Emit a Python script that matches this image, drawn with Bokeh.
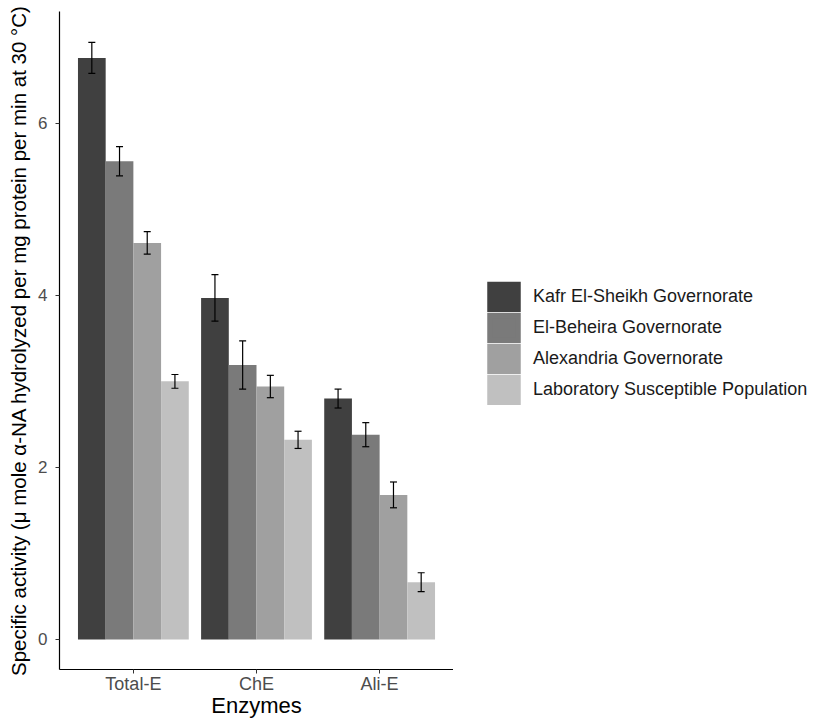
from bokeh.plotting import figure
from bokeh.layouts import row
from bokeh.models import ColumnDataSource, FactorRange, Whisker, TeeHead, Legend, LegendItem
from bokeh.transform import dodge
from bokeh.embed import file_html
from bokeh.resources import INLINE

enzymes = ["Total-E", "ChE", "Ali-E"]
groups = ["Kafr El-Sheikh Governorate", "El-Beheira Governorate",
          "Alexandria Governorate", "Laboratory Susceptible Population"]
kafr = [6.76, 3.97, 2.80]
kafr_se = [0.18, 0.27, 0.11]
beheira = [5.56, 3.19, 2.38]
beheira_se = [0.17, 0.28, 0.14]
alex = [4.61, 2.94, 1.68]
alex_se = [0.13, 0.13, 0.15]
lab = [3.00, 2.32, 0.665]
lab_se = [0.08, 0.10, 0.11]
colors = ["#404040", "#7a7a7a", "#a0a0a0", "#c0c0c0"]
y_ticks = [0, 2, 4, 6]

FONT = "Liberation Sans"

p = figure(width=453, height=720, output_backend="svg", toolbar_location=None,
           x_range=FactorRange(factors=enzymes, range_padding=0.1, range_padding_units="absolute"),
           y_range=(-0.35, 7.30),
           min_border_left=59, min_border_top=11, min_border_bottom=46, min_border_right=0)

# legend panel (separate figure so the legend sits outside the bars' frame)
p2 = figure(width=367, height=720, output_backend="svg", toolbar_location=None,
            x_axis_type=None, y_axis_type=None, x_range=(0, 1), y_range=(0, 1),
            min_border=0)

series = [kafr, beheira, alex, lab]
ses = [kafr_se, beheira_se, alex_se, lab_se]
offsets = [-0.3375, -0.1125, 0.1125, 0.3375]
items = []
for name, vals, se, off, col in zip(groups, series, ses, offsets, colors):
    src = ColumnDataSource(dict(x=enzymes, top=vals,
                                upper=[v + s for v, s in zip(vals, se)],
                                lower=[v - s for v, s in zip(vals, se)]))
    p.vbar(x=dodge("x", off, range=p.x_range), top="top", bottom=0, width=0.225,
           source=src, fill_color=col, line_color=None)
    w = Whisker(base=dodge("x", off, range=p.x_range), upper="upper", lower="lower",
                source=src, line_color="black", line_width=1.2, level="overlay",
                upper_head=TeeHead(size=7, line_color="black", line_width=1.2),
                lower_head=TeeHead(size=7, line_color="black", line_width=1.2))
    p.add_layout(w)
    # legend key renderer: categorical x on a numeric range, so nothing is drawn in p2
    r = p2.vbar(x="x", top="top", bottom=0, width=0.225, source=src,
                fill_color=col, line_color=col, line_width=5.5, line_join="miter")
    items.append(LegendItem(label=name, renderers=[r]))

p.xgrid.grid_line_color = None
p.ygrid.grid_line_color = None
p.outline_line_color = None

p.yaxis.ticker = y_ticks
p.yaxis.axis_label = "Specific activity (\u03bc mole \u03b1-NA hydrolyzed per mg protein per min at 30 \u00b0C)"
p.xaxis.axis_label = "Enzymes"
for ax in (p.xaxis, p.yaxis):
    ax.axis_line_color = "black"
    ax.axis_line_width = 1.2
    ax.major_tick_line_color = "#333333"
    ax.major_tick_out = 4
    ax.major_tick_in = 0
    ax.minor_tick_line_color = None
    ax.major_label_text_font = FONT
    ax.major_label_text_font_size = "17px"
    ax.major_label_text_color = "#4d4d4d"
    ax.axis_label_text_font = FONT
    ax.axis_label_text_font_style = "normal"
    ax.axis_label_text_color = "black"
p.xaxis.major_label_text_font_size = "18px"
p.xaxis.axis_label_text_font_size = "22px"
p.yaxis.axis_label_text_font_size = "20.5px"
p.xaxis.axis_label_standoff = -4
p.yaxis.axis_label_standoff = 5
p.xaxis.major_label_standoff = 0
p.yaxis.major_label_standoff = 8

p2.outline_line_color = None
p2.xgrid.grid_line_color = None
p2.ygrid.grid_line_color = None
legend = Legend(items=items, location=(33, 264), margin=0, padding=0,
                glyph_width=35, glyph_height=31, spacing=0, label_standoff=12,
                label_text_font=FONT, label_text_font_size="18px", label_text_color="#1a1a1a",
                border_line_color=None, background_fill_alpha=0)
p2.add_layout(legend)

layout = row(p, p2)
open("out.html", "w").write(file_html(layout, INLINE))
